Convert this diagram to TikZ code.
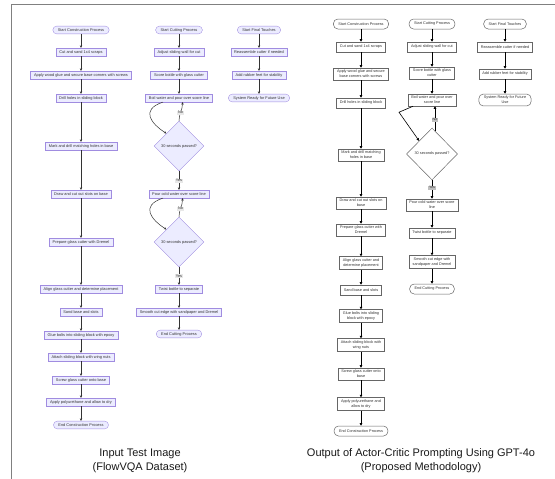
\documentclass[tikz,border=0pt]{standalone}
\usepackage{fontspec}
\setmainfont{Liberation Sans}
\usetikzlibrary{shapes.geometric, arrows.meta}

\definecolor{mmfill}{HTML}{ECECFF}
\definecolor{mmline}{HTML}{A08CE0}
\definecolor{mmedge}{HTML}{333333}
\definecolor{mmlabel}{HTML}{E8E8E8}
\definecolor{rline}{HTML}{666666}
\definecolor{framegray}{HTML}{808080}

\begin{document}
\begin{tikzpicture}[x=1pt, y=-1pt,
	mbox/.style={draw=mmline, fill=mmfill, line width=0.35pt, text=mmedge,
		font=\fontsize{3.9}{4.4}\selectfont, inner xsep=3.5pt, inner ysep=1.6pt, minimum height=7.8pt},
	mterm/.style={mbox, rounded corners=3.9pt, inner xsep=5pt},
	mdia/.style={mbox, diamond, inner sep=0pt, minimum width=50pt, minimum height=50pt},
	marr/.style={draw=mmedge, line width=0.5pt, -{Stealth[length=2.6pt, width=2.4pt]}},
	mlbl/.style={fill=mmlabel, text=mmedge, font=\fontsize{3.8}{4}\selectfont, inner sep=0.7pt},
	rbox/.style={draw=rline, fill=white, line width=0.5pt, text=black!80,
		font=\fontsize{3.8}{4.8}\selectfont, align=center, inner xsep=3.5pt, inner ysep=2.2pt, minimum height=10pt},
	rterm/.style={rbox, rounded corners=4.5pt, inner xsep=5pt},
	rdia/.style={rbox, diamond, inner sep=0pt, minimum width=51pt, minimum height=52pt},
	rarr/.style={draw=black, line width=0.6pt, -{Triangle[length=2.6pt, width=2.6pt]}},
	rlbl/.style={fill=black!25, text=black!80, font=\fontsize{3.6}{4}\selectfont, inner sep=0.8pt},
	caption/.style={font=\fontsize{11}{14}\selectfont, align=center, text=black!90}]

	\useasboundingbox (0,0) rectangle (555,479);

	\def\xA{81};
	\def\xB{179};
	\def\xC{259};
	\def\xD{361};
	\def\xE{432};
	\def\xF{505};

	\draw[framegray, line width=0.8pt] (11,479) -- (11,4) -- (555,4);

	% input image: construction
	\begin{scope}
		\node[mterm] (a1) at (\xA,30) {Start Construction Process};
		\node[mbox] (a2) at (\xA,52) {Cut and sand 1x4 scraps};
		\node[mbox] (a3) at (\xA,75) {Apply wood glue and secure base corners with screws};
		\node[mbox] (a4) at (\xA,98) {Drill holes in sliding block};
		\node[mbox] (a5) at (\xA,146) {Mark and drill matching holes in base};
		\node[mbox] (a6) at (\xA,194) {Draw and cut out slots on base};
		\node[mbox] (a7) at (\xA,242) {Prepare glass cutter with Dremel};
		\node[mbox] (a8) at (\xA,289) {Align glass cutter and determine placement};
		\node[mbox] (a9) at (\xA,312) {Sand base and slots};
		\node[mbox] (a10) at (\xA,335) {Glue bolts into sliding block with epoxy};
		\node[mbox] (a11) at (\xA,357) {Attach sliding block with wing nuts};
		\node[mbox] (a12) at (\xA,380) {Screw glass cutter onto base};
		\node[mbox] (a13) at (\xA,402) {Apply polyurethane and allow to dry};
		\node[mterm] (a14) at (\xA,425) {End Construction Process};
		\foreach \i [count=\j from 2] in {1,...,13}
		{
			\draw[marr] (a\i) -- (a\j);
		}
	\end{scope}

	% input image: cutting
	\begin{scope}
		\node[mterm] (b1) at (\xB,30) {Start Cutting Process};
		\node[mbox] (b2) at (\xB,52) {Adjust sliding wall for cut};
		\node[mbox] (b3) at (\xB,75) {Score bottle with glass cutter};
		\node[mbox] (b4) at (\xB,98) {Boil water and pour over score line};
		\node[mdia] (b5) at (\xB,146) {30 seconds passed?};
		\node[mbox] (b6) at (\xB,194) {Pour cold water over score line};
		\node[mdia] (b7) at (\xB,242) {30 seconds passed?};
		\node[mbox] (b8) at (\xB,289) {Twist bottle to separate};
		\node[mbox] (b9) at (\xB,312) {Smooth cut edge with sandpaper and Dremel};
		\node[mterm] (b10) at (\xB,334) {End Cutting Process};
		\foreach \s/\t in {b1/b2, b2/b3, b3/b4, b8/b9, b9/b10}
		{
			\draw[marr] (\s) -- (\t);
		}
		\draw[marr] ([xshift=-16pt]b4.south) .. controls +(-24,8) and +(-14,-9) .. (b5.north west);
		\draw[marr] ([xshift=-16pt]b6.south) .. controls +(-24,8) and +(-14,-9) .. (b7.north west);
		\draw[marr] (b5.north) .. controls +(0,-7) and +(0,8) .. node[mlbl, pos=0.45] {No} ([xshift=3.5pt]b4.south);
		\draw[marr] (b7.north) .. controls +(0,-7) and +(0,8) .. node[mlbl, pos=0.45] {No} ([xshift=3.5pt]b6.south);
		\draw[marr] (b5) -- node[mlbl] {Yes} (b6);
		\draw[marr] (b7) -- node[mlbl] {Yes} (b8);
	\end{scope}

	% input image: final touches
	\begin{scope}
		\node[mterm] (c1) at (\xC,30) {Start Final Touches};
		\node[mbox] (c2) at (\xC,52) {Reassemble cutter if needed};
		\node[mbox] (c3) at (\xC,75) {Add rubber feet for stability};
		\node[mterm] (c4) at (\xC,98) {System Ready for Future Use};
		\foreach \i [count=\j from 2] in {1,...,3}
		{
			\draw[marr] (c\i) -- (c\j);
		}
	\end{scope}

	% output: construction
	\begin{scope}
		\node[rterm] (ra1) at (\xD,24) {Start Construction Process};
		\node[rbox] (ra2) at (\xD,47) {Cut and sand 1x4 scraps};
		\node[rbox] (ra3) at (\xD,74) {Apply wood glue and secure\\base corners with screws};
		\node[rbox] (ra4) at (\xD,103) {Drill holes in sliding block};
		\node[rbox] (ra5) at (\xD,155) {Mark and drill matching\\holes in base};
		\node[rbox] (ra6) at (\xD,203) {Draw and cut out slots on\\base};
		\node[rbox] (ra7) at (\xD,230) {Prepare glass cutter with\\Dremel};
		\node[rbox] (ra8) at (\xD,263) {Align glass cutter and\\determine placement};
		\node[rbox] (ra9) at (\xD,290) {Sand base and slots};
		\node[rbox] (ra10) at (\xD,316) {Glue bolts into sliding\\block with epoxy};
		\node[rbox] (ra11) at (\xD,345) {Attach sliding block with\\wing nuts};
		\node[rbox] (ra12) at (\xD,374) {Screw glass cutter onto\\base};
		\node[rbox] (ra13) at (\xD,404) {Apply polyurethane and\\allow to dry};
		\node[rterm] (ra14) at (\xD,431) {End Construction Process};
		\foreach \i [count=\j from 2] in {1,...,13}
		{
			\draw[rarr] (ra\i) -- (ra\j);
		}
	\end{scope}

	% output: cutting
	\begin{scope}
		\node[rterm] (rb1) at (\xE,24) {Start Cutting Process};
		\node[rbox] (rb2) at (\xE,47) {Adjust sliding wall for cut};
		\node[rbox] (rb3) at (\xE,73) {Score bottle with glass\\cutter};
		\node[rbox] (rb4) at (\xE,100) {Boil water and pour over\\score line};
		\node[rdia] (rb5) at (\xE,154) {30 seconds passed?};
		\node[rbox] (rb6) at (\xE,205) {Pour cold water over score\\line};
		\node[rbox] (rb7) at (\xE,233) {Twist bottle to separate};
		\node[rbox] (rb8) at (\xE,262) {Smooth cut edge with\\sandpaper and Dremel};
		\node[rterm] (rb9) at (\xE,289) {End Cutting Process};
		\foreach \s/\t in {rb1/rb2, rb2/rb3, rb3/rb4, rb6/rb7, rb7/rb8, rb8/rb9}
		{
			\draw[rarr] (\s) -- (\t);
		}
		\draw[rarr] ([xshift=-19pt]rb4.south) -- ++(-14,6) -- (rb5.north west);
		\draw[rarr] ([xshift=3pt, yshift=-3pt]rb5.north) -- node[rlbl, pos=0.45] {No} ([xshift=3pt]rb4.south);
		\draw[rarr] (rb5) -- node[rlbl, pos=0.4] {Yes} (rb6);
	\end{scope}

	% output: final touches
	\begin{scope}
		\node[rterm] (rc1) at (\xF,24) {Start Final Touches};
		\node[rbox] (rc2) at (\xF,47) {Reassemble cutter if needed};
		\node[rbox] (rc3) at (\xF,74) {Add rubber feet for stability};
		\node[rterm] (rc4) at (\xF,100) {System Ready for Future\\Use};
		\foreach \i [count=\j from 2] in {1,...,3}
		{
			\draw[rarr] (rc\i) -- (rc\j);
		}
	\end{scope}

	\node[caption] (capL) at (140,461) {Input Test Image\\(FlowVQA Dataset)};
	\node[caption] (capR) at (421,461) {Output of Actor-Critic Prompting Using GPT-4o\\(Proposed Methodology)};
\end{tikzpicture}
\end{document}
